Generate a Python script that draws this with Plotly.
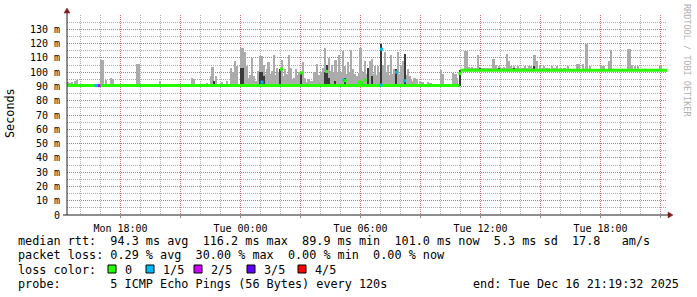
import numpy as np
import pandas as pd
import plotly.graph_objects as go

# ---------------- data ----------------
T0 = pd.Timestamp("2025-12-16 00:00:00")          # Tue 00:00, hours below are relative to it
T_START = "2025-12-15 15:19:32"
T_END = "2025-12-16 21:19:32"

# smoke spikes: hour (rel. to Tue 00:00), outer smoke top (ms), inner smoke top (ms, 0 = none)
spike_hour = [
    -8.625, -8.525, -8.425, -8.275, -8.175, -6.975, -6.875, -6.725, -6.475, -6.4,
    -6.125, -5.925, -5.675, -5.375, -5.175, -5.1, -4.975, -4.275, -4.025, -3.625,
    -2.775, -2.425, -2.325, -1.675, -1.475, -1.4, -1.325, -1.225, -0.925, -0.675,
    -0.475, -0.375, -0.275, -0.175,
    0.025, 0.125, 0.2, 0.325, 0.425, 0.575, 0.775, 0.975, 1.075, 1.175,
    1.325, 1.4, 1.525, 1.675, 1.825, 1.975, 2.075, 2.225, 2.425, 2.625,
    2.775, 2.925, 3.025, 3.125, 3.275, 3.825, 3.975, 4.225, 4.325, 4.425,
    4.575, 4.675, 4.75, 4.925, 5.025, 5.125, 5.225, 5.375, 5.525, 5.625,
    5.825, 5.925, 6.0, 6.125, 6.225, 6.375, 6.475, 6.575, 6.725, 6.875,
    7.025, 7.125, 7.225, 7.375, 7.525, 7.675, 7.775, 7.875, 8.025, 8.125,
    8.225, 8.375, 8.525, 8.825, 8.975, 9.375, 10.025, 10.125, 10.625, 10.75,
    10.825, 10.97,
    11.225, 11.3, 11.425, 11.575, 11.875, 11.975, 12.65, 12.775, 12.925, 13.175,
    13.325, 13.425, 13.525, 13.675, 13.875, 14.225, 14.425, 14.525, 14.7, 14.825,
    14.975, 15.175, 15.575, 15.825, 16.375, 16.825, 16.925, 17.125, 17.3, 17.475,
    18.025, 18.15, 18.45, 18.525, 19.375, 19.475, 19.575, 19.725, 19.875, 21.0,
    # lower smoke between the tall spikes
    0.275, 0.5, 0.675, 0.875, 1.25, 1.6, 1.75, 1.9, 2.15, 2.325,
    2.525, 2.7, 2.85, 3.2, 3.4, 3.55, 3.7, 3.9, 4.05, 4.125,
    4.5, 4.85, 5.075, 5.3, 5.45, 5.575, 5.7, 5.75, 6.05, 6.3,
    6.55, 6.65, 6.8, 6.95, 7.3, 7.45, 7.6, 7.95, 8.075, 8.3,
    8.45, 8.6, 8.7, 9.1, 9.5,
    11.525, 11.65, 11.75, 12.1, 12.2, 12.35, 12.5, 12.85, 13.05, 13.25,
    13.6, 13.8, 14.0, 14.1, 14.3, 14.6, 15.05, 15.3, 15.4, 15.7,
    16.0, 16.2,
]
spike_max = [
    93, 92.6, 93, 93.5, 94.7, 108.5, 108.5, 94.7, 96, 95,
    92, 92, 92, 92, 106, 106, 92, 92, 93.5, 92,
    92, 96, 95, 92.5, 97.5, 103.4, 94, 97, 93, 94,
    103, 100, 107.8, 104,
    117, 117, 114, 104, 96, 110, 94, 111, 111, 105,
    102, 107, 99, 112, 103, 102, 108.5, 102, 112, 95,
    102, 100, 100, 107, 93, 106, 96, 117, 105, 110,
    105, 100, 108.5, 112, 100, 114.8, 104, 107, 115.5, 102,
    97, 99.5, 116.7, 99.5, 108, 103, 108, 109, 104, 104,
    120, 105, 114.3, 105, 112, 102, 102, 114, 104, 108,
    113, 102, 95, 95, 94, 93.3, 101.5, 98.5, 99.2, 98.5,
    96, 101.3,
    115, 115, 103.8, 103.8, 112, 103.8, 109, 105, 104, 103.8,
    113, 108, 104.5, 104, 104, 104.5, 104, 104.5, 112, 108,
    104, 104, 104, 104.5, 104, 106, 106, 106, 119.7, 104.5,
    104, 104, 108, 115.5, 116, 116, 105, 104, 104, 104,
    100, 98, 97, 101, 99, 101, 98, 100, 97, 99,
    103, 96, 98, 96, 95, 94, 100, 98, 100, 103,
    101, 100, 97, 99, 100, 98, 99, 96, 101, 99,
    101, 99, 98, 100, 100, 98, 99, 99, 96, 98,
    97, 94, 96, 93, 92.5,
    103, 102.8, 103, 102.8, 103, 102.8, 103, 102.8, 103, 102.8,
    103, 102.8, 103, 102.8, 103, 102.8, 103, 102.8, 103, 102.8,
    103, 102.8,
]
spike_inner = [
    0, 0, 0, 0, 0, 0, 0, 0, 0, 0,
    0, 0, 0, 0, 0, 0, 0, 0, 0, 0,
    0, 0, 0, 0, 0, 0, 93.5, 0, 0, 0,
    0, 0, 0, 0,
    103, 103, 0, 0, 0, 0, 0, 100, 100, 97,
    0, 0, 0, 0, 0, 102, 0, 0, 0, 0,
    0, 0, 100, 0, 0, 0, 0, 100, 105, 96,
    0, 0, 94, 0, 0, 0, 96, 0, 0, 0,
    0, 0, 0, 0, 0, 103, 0, 97, 0, 0,
    120, 0, 0, 0, 0, 0, 102, 0, 0, 0,
    113, 0, 0, 0, 0, 0, 0, 0, 0, 0,
    0, 101.3,
    0, 0, 0, 0, 0, 103, 0, 0, 103, 0,
    0, 0, 0, 103, 0, 0, 0, 0, 104.4, 0,
    0, 0, 0, 0, 0, 0, 0, 0, 0, 0,
    0, 0, 0, 0, 0, 0, 0, 0, 0, 0,
    0, 0, 0, 0, 0, 0, 0, 0, 0, 0,
    0, 0, 0, 0, 0, 0, 0, 0, 0, 0,
    0, 0, 0, 0, 0, 0, 0, 0, 0, 0,
    0, 0, 0, 0, 0, 0, 0, 0, 0, 0,
    0, 0, 0, 0, 0,
    0, 0, 0, 0, 0, 0, 0, 0, 0, 0,
    0, 0, 0, 0, 0, 0, 0, 0, 0, 0,
    0, 0,
]

step_hour = 11.0
floor_before = 90.0
floor_after = 100.7

# median rtt line (two levels)
median_hour = [-8.66, 10.95, None, 11.0, 21.33]
median_ms = [90.6, 90.6, None, 101.3, 101.3]

# single bins where the median moved or packets were lost
bin_hour = [-7.225, -7.075, 1.075, 2.05, 3.05, 4.3, 5.175, 5.25, 5.95, 6.1, 6.225, 7.025, 7.05, 7.8, 8.2, 10.97]
bin_ms = [90.6, 90.6, 93, 102, 99.5, 100.5, 94.5, 94, 93, 92.5, 94.5, 91, 116, 100, 94, 99]
bin_loss = [1, 2, 1, 0, 0, 0, 1, 0, 0, 0, 0, 1, 1, 1, 1, 0]

loss_labels = ["0", "1/5", "2/5", "3/5", "4/5"]
loss_colors = ["#26ff00", "#00b8ff", "#cc00ff", "#6200ff", "#ff0000"]

x_tick_times = ["2025-12-15 18:00", "2025-12-15 21:00", "2025-12-16 00:00", "2025-12-16 03:00",
                "2025-12-16 06:00", "2025-12-16 09:00", "2025-12-16 12:00", "2025-12-16 15:00",
                "2025-12-16 18:00", "2025-12-16 21:00"]
x_tick_text = ["Mon 18:00", "", "Tue 00:00", "", "Tue 06:00", "", "Tue 12:00", "", "Tue 18:00", ""]
y_tick_vals = [0, 10, 20, 30, 40, 50, 60, 70, 80, 90, 100, 110, 120, 130]
y_tick_text = ["0", "10 m", "20 m", "30 m", "40 m", "50 m", "60 m", "70 m", "80 m", "90 m",
               "100 m", "110 m", "120 m", "130 m"]

legend_lines = [
    "median rtt:  94.3 ms avg  116.2 ms max  89.9 ms min  101.0 ms now  5.3 ms sd  17.8   am/s",
    "packet loss: 0.29 % avg  30.00 % max  0.00 % min  0.00 % now",
    "loss color:",
    "probe:       5 ICMP Echo Pings (56 Bytes) every 120s",
]
end_text = "end: Tue Dec 16 21:19:32 2025"

# ---------------- geometry helpers ----------------
W, H = 697, 297
PL, PR, PT, PB = 67, 667, 15, 215


def px(x):
    return (x - PL) / (PR - PL)


def py(y):
    return (PB - y) / (PB - PT)


def to_time(hours):
    return [T0 + pd.Timedelta(hours=h) if h is not None else None for h in hours]


def nb(s):
    return s.replace(" ", "\u00a0")


PX_MS = 180000  # one pixel = 3 minutes

sh = np.array(spike_hour, dtype=float)
smax = np.array(spike_max, dtype=float)
sin = np.array(spike_inner, dtype=float)
floor = np.where(sh < step_hour, floor_before, floor_after)
mask = sin > 0

fig = go.Figure()
fig.add_trace(go.Bar(x=to_time(sh), y=smax - floor, base=floor, width=2.3 * PX_MS,
                     marker=dict(color="#ababab", line_width=0), hoverinfo="skip"))
fig.add_trace(go.Bar(x=to_time(sh[mask]), y=sin[mask] - floor[mask], base=floor[mask],
                     width=1.3 * PX_MS, marker=dict(color="#3a3a3a", line_width=0), hoverinfo="skip"))
fig.add_trace(go.Scatter(x=to_time(median_hour), y=median_ms, mode="lines",
                         line=dict(color=loss_colors[0], width=3), connectgaps=False, hoverinfo="skip"))
fig.add_trace(go.Scatter(x=to_time(bin_hour), y=bin_ms, mode="markers",
                         marker=dict(symbol="square", size=3, color=[loss_colors[i] for i in bin_loss],
                                     line_width=0), hoverinfo="skip"))

MGRID = "rgba(222,79,79,0.6)"
GRID = "rgba(143,143,143,0.75)"

fig.update_layout(
    width=W, height=H,
    margin=dict(l=PL, r=W - PR, t=PT, b=H - PB, pad=0),
    paper_bgcolor="white", plot_bgcolor="white",
    showlegend=False, barmode="overlay", bargap=0,
    font=dict(family="DejaVu Sans Mono", size=10, color="#000000"),
)
fig.update_xaxes(
    type="date", range=[T_START, T_END],
    tickvals=x_tick_times, ticktext=x_tick_text,
    showgrid=True, gridcolor=MGRID, griddash="1px,1px", gridwidth=1,
    ticks="outside", ticklen=2, tickcolor="#888888", ticklabelstandoff=2,
    showline=False, zeroline=False, tickfont=dict(size=10),
    minor=dict(dtick=3600000, tick0="2025-12-15 00:00:00", showgrid=True,
               gridcolor=GRID, griddash="1px,1px", gridwidth=1, ticks=""),
)
fig.update_yaxes(
    range=[0, 140], tickvals=y_tick_vals, ticktext=y_tick_text,
    showgrid=True, gridcolor=MGRID, griddash="1px,1px", gridwidth=1,
    ticks="", ticklabelstandoff=6, showline=False, zeroline=False, tickfont=dict(size=10),
    minor=dict(dtick=5, tick0=0, showgrid=True, gridcolor=GRID, griddash="1px,1px", gridwidth=1, ticks=""),
)

AXIS = "#1f1f1f"
ARROW = "#801f1f"
shapes = [
    dict(type="line", xref="paper", yref="paper", x0=px(63), x1=px(669), y0=0, y1=0,
         line=dict(color=AXIS, width=1)),
    dict(type="line", xref="paper", yref="paper", x0=0, x1=0, y0=0, y1=py(12),
         line=dict(color=AXIS, width=1)),
    dict(type="path", xref="paper", yref="paper",
         path=f"M {px(64)},{py(13)} L {px(70)},{py(13)} L {px(67)},{py(8)} Z",
         fillcolor=ARROW, line=dict(color=ARROW, width=0.5)),
    dict(type="path", xref="paper", yref="paper",
         path=f"M {px(668)},{py(212)} L {px(668)},{py(218)} L {px(673)},{py(215)} Z",
         fillcolor=ARROW, line=dict(color=ARROW, width=0.5)),
]

LEG_FONT = dict(family="DejaVu Sans Mono", size=11.8, color="#000000")
line_y = [241, 255, 270, 284]
annotations = []
for text, yy in zip(legend_lines, line_y):
    annotations.append(dict(xref="paper", yref="paper", x=px(16), y=py(yy), text=nb(text),
                            showarrow=False, xanchor="left", yanchor="middle", font=LEG_FONT))
annotations.append(dict(xref="paper", yref="paper", x=px(681), y=py(284), text=nb(end_text),
                        showarrow=False, xanchor="right", yanchor="middle", font=LEG_FONT))

box_left = [108, 146, 194, 247, 298]
for lbl, col, bx in zip(loss_labels, loss_colors, box_left):
    shapes.append(dict(type="rect", xref="paper", yref="paper", x0=px(bx), x1=px(bx + 8),
                       y0=py(273), y1=py(265), fillcolor=col, line=dict(color="#000000", width=1)))
    annotations.append(dict(xref="paper", yref="paper", x=px(bx + 15), y=py(270), text=lbl,
                            showarrow=False, xanchor="left", yanchor="middle", font=LEG_FONT))

annotations.append(dict(xref="paper", yref="paper", x=px(10), y=py(113), text="Seconds",
                        textangle=-90, showarrow=False, xanchor="center", yanchor="middle",
                        font=LEG_FONT))
annotations.append(dict(xref="paper", yref="paper", x=px(687), y=py(60), text=nb("RRDTOOL / TOBI OETIKER"),
                        textangle=90, showarrow=False, xanchor="center", yanchor="middle",
                        font=dict(family="DejaVu Sans Mono", size=8.5, color="#b0b0b0")))

fig.update_layout(shapes=shapes, annotations=annotations)
fig.write_html("out.html")
